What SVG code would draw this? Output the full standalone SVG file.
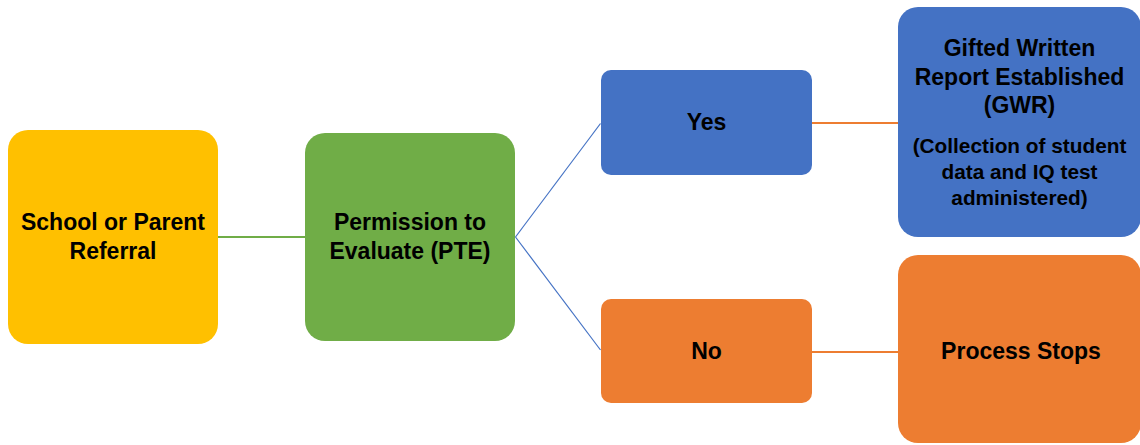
<svg xmlns="http://www.w3.org/2000/svg" width="1140" height="445" viewBox="0 0 1140 445">
<style>
.t{font-family:"Liberation Sans",Arial,sans-serif;font-weight:bold;font-size:23px;fill:#000;text-anchor:middle}
.s{font-size:20.8px}
</style>
<rect width="1140" height="445" fill="#fff"/>
<g id="connectors" fill="none">
<line x1="218" y1="237" x2="305" y2="237" stroke="#70AD47" stroke-width="2"/>
<line x1="515.5" y1="237" x2="600.5" y2="123.5" stroke="#4472C4" stroke-width="1.2"/>
<line x1="515.5" y1="237" x2="600.5" y2="350" stroke="#4472C4" stroke-width="1.2"/>
<line x1="812" y1="123" x2="898" y2="123" stroke="#ED7D31" stroke-width="2"/>
<line x1="812" y1="352" x2="898" y2="352" stroke="#ED7D31" stroke-width="2"/>
</g>
<g id="referral">
<rect x="8" y="130" width="210" height="214" rx="20" fill="#FFC000"/>
<text class="t" x="113" y="230">School or Parent</text>
<text class="t" x="113" y="259">Referral</text>
</g>
<g id="pte">
<rect x="305" y="133" width="210" height="208" rx="20" fill="#70AD47"/>
<text class="t" x="410" y="230">Permission to</text>
<text class="t" x="410" y="259">Evaluate (PTE)</text>
</g>
<g id="yes">
<rect x="601" y="70" width="211" height="105" rx="10" fill="#4472C4"/>
<text class="t" x="706.5" y="130">Yes</text>
</g>
<g id="no">
<rect x="601" y="299" width="211" height="104" rx="10" fill="#ED7D31"/>
<text class="t" x="706.5" y="359">No</text>
</g>
<g id="gwr">
<rect x="898" y="7" width="243" height="230" rx="20" fill="#4472C4"/>
<text class="t" x="1019.5" y="56">Gifted Written</text>
<text class="t" x="1019.5" y="85">Report Established</text>
<text class="t" x="1019.5" y="113">(GWR)</text>
<text class="t s" x="1019.5" y="153">(Collection of student</text>
<text class="t s" x="1019.5" y="179">data and IQ test</text>
<text class="t s" x="1019.5" y="205">administered)</text>
</g>
<g id="stops">
<rect x="898" y="255" width="243" height="188" rx="20" fill="#ED7D31"/>
<text class="t" x="1021" y="359">Process Stops</text>
</g>
</svg>
